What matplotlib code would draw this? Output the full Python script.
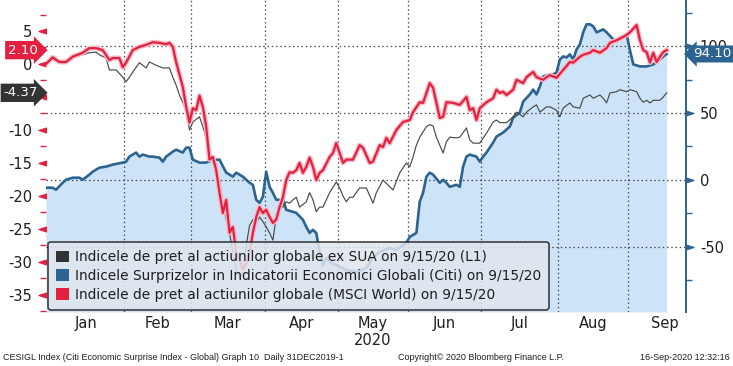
import numpy as np
import matplotlib
matplotlib.use("Agg")
import matplotlib.pyplot as plt
import matplotlib.patheffects as pe
from matplotlib.markers import MarkerStyle
from matplotlib.path import Path
from matplotlib.patches import Patch
from matplotlib.ticker import MultipleLocator, FixedLocator, NullFormatter
from matplotlib.transforms import blended_transform_factory

# ---------------- data (x = trading-day index since 31 Dec 2019) ----------------
red_x = [0, 2, 4, 6, 8, 11, 13, 15, 17, 19, 20, 22, 23, 24, 26, 28, 30, 32, 34, 36, 37, 38, 39,
         41, 42, 43, 44, 45, 46, 47, 48, 49, 50, 51, 52, 53, 54, 55, 56, 57, 58, 59, 60, 61, 62,
         63, 64, 65, 66, 67, 68, 69, 70, 71, 72, 73, 74, 75, 76, 77, 78, 79, 80, 81, 82, 83, 85,
         86, 87, 88, 89, 90, 92, 94, 95, 97, 98, 100, 101, 102, 103, 105, 107, 109, 110, 112, 113,
         115, 116, 118, 119, 120, 122, 124, 126, 127, 128, 129, 130, 132, 134, 135, 136, 137, 138,
         140, 141, 143, 144, 146, 147, 149, 150, 151, 153, 155, 157, 158, 160, 161, 163, 164, 166,
         168, 169, 171, 173, 174, 175, 177, 178, 179, 180, 181, 182, 183, 184, 185, 186]
red_y = [0.0, 1.0, 0.3, 0.3, 1.1, 1.7, 2.4, 2.4, 2.1, 0.6, 0.9, 0.9, -0.5, 0.2, 2.1, 2.6, 2.9, 3.3,
         3.2, 3.0, 3.2, 2.6, 0.3,
         -3.5, -6.5, -8.9, -6.7, -7.0, -4.8, -6.5, -9.5, -14.5, -14.1, -16.1, -19.5, -22.6, -20.6,
         -25.6, -24.7, -28.6, -29.7, -31.2, -30.2, -28.6, -25.6,
         -23.2, -21.7, -22.6, -22.1, -23.2, -24.1, -23.6, -21.7, -20.2, -17.6, -16.4, -16.5, -16.1,
         -15.0, -16.5, -15.6, -14.2, -15.6, -17.6, -16.5, -16.1, -14.1,
         -13.5, -12.0, -13.5, -15.0, -14.5, -14.5, -12.3, -12.7, -15.0, -14.8, -12.3, -12.6, -11.2,
         -12.0, -10.0, -8.8, -8.5, -7.3, -5.8, -5.9,
         -2.9, -3.6, -8.2, -8.0, -5.8, -5.9, -6.2, -5.0, -7.0, -6.7, -8.5, -6.7, -5.8, -5.2, -3.9,
         -4.4, -4.2, -4.7,
         -3.9, -2.4, -2.9, -2.0, -1.2, -2.0, -2.4, -2.0, -1.7, -2.1, -0.9, 0.3, 0.2, 1.1, 1.4, 1.7,
         2.1, 1.7,
         2.4, 3.2, 3.6, 4.1, 4.4, 4.8, 5.9, 3.6, 2.1, 1.8, 0.2, 1.7, 0.3, 1.1, 1.8, 2.10]

gray_x = [0, 2, 4, 6, 8, 11, 13, 15, 16, 18, 19, 20, 21, 23, 24, 25, 27, 28, 30, 31, 33, 35, 37,
          38, 39, 40, 42, 43, 44, 46, 47, 49, 50, 52, 53, 54, 55, 56, 57, 58, 59, 60, 61, 62, 63,
          64, 65, 66, 67, 68, 69, 70, 71, 72, 73, 74, 75, 76, 78, 79, 80, 81, 82, 83, 84, 85, 87,
          88, 89, 90, 91, 92, 94, 96, 98, 99, 101, 103, 104, 106, 108, 109, 110, 111, 112, 114,
          115, 116, 117, 118, 119, 120, 121, 123, 124, 126, 127, 128, 130, 132, 134, 135, 136, 138,
          140, 141, 143, 144, 146, 147, 148, 150, 151, 153, 154, 155, 157, 158, 160, 161, 163, 164,
          166, 167, 168, 169, 171, 172, 174, 175, 177, 178, 179, 180, 181, 182, 184, 185, 186]
gray_y = [0.0, 0.6, 0.3, 0.2, 0.9, 1.4, 1.7, 1.8, 1.4, 0.9, -0.9, -0.9, -0.9, -2.0, -2.7, -2.0,
          -0.5, 0.2, -0.6, 0.3, -0.2, -0.6, -0.6,
          -2.0, -3.2, -4.7, -7.0, -10.0, -8.8, -8.0, -9.5, -13.0, -15.0, -17.6, -21.1, -23.6,
          -25.6, -28.6, -31.2, -32.4, -31.5, -27.5, -24.5, -23.6, -24.1,
          -23.2, -23.9, -24.7, -25.6, -26.7, -23.2, -21.1, -21.7, -20.9, -21.1, -20.6, -20.2,
          -21.7, -20.9, -19.5, -20.6, -22.4, -21.7, -21.7, -20.6, -19.5, -17.9,
          -18.8, -20.0, -20.9, -20.2, -20.2, -18.8, -18.8, -21.1, -19.5, -17.6, -18.6, -19.1,
          -16.5, -15.0, -15.6, -14.1, -12.3, -11.1, -9.5,
          -9.2, -9.4, -11.1, -12.3, -13.5, -11.8, -11.1, -11.2, -11.1, -9.7, -11.5, -12.0, -12.0,
          -10.5, -8.8, -8.5, -8.9, -8.9,
          -8.0, -7.3, -8.0, -7.3, -6.5, -6.2, -7.3, -6.5, -6.5, -7.0, -8.0, -6.7, -5.9, -6.5,
          -6.7, -5.2, -4.7, -5.2,
          -4.7, -5.2, -5.9, -4.4, -4.2, -3.9, -4.2, -3.9, -4.2, -5.2, -5.8, -5.5, -5.9, -5.5,
          -5.5, -5.0, -4.37]

blue_x = [0, 2, 3, 5, 6, 8, 10, 11, 13, 14, 16, 18, 20, 23, 24, 25, 27, 28, 29, 31, 32, 34, 35,
          36, 38, 39, 41, 42, 43, 44, 46, 48, 50, 52, 54, 56, 57, 59, 61, 62, 63, 64, 65, 66, 67,
          68, 69, 71, 72, 74, 75, 77, 78, 79, 80, 81, 82, 83, 84, 85, 87, 90, 93, 96, 98, 100,
          103, 105, 107, 108, 109, 111, 112, 113, 114, 115, 116, 118, 119, 120, 121, 123, 124,
          125, 126, 127, 129, 130, 131, 132, 134, 135, 137, 139, 140, 142, 143, 145, 146, 147,
          148, 149, 151, 152, 153, 154, 155, 156, 157, 158, 159, 160, 161, 162, 163, 164, 165,
          167, 168, 170, 171, 172, 174, 175, 176, 178, 180, 182, 184, 185, 186]
blue_y = [-6.0, -6.0, -7.5, -2.3, 0.0, 1.5, 1.5, 0.0, 3.8, 6.0, 9.0, 9.8, 11.3, 12.8, 13.5, 17.3,
          20.3, 17.3, 18.8, 17.3, 17.3, 16.5, 13.5,
          17.3, 21.0, 22.5, 20.3, 24.0, 24.0, 15.0, 12.8, 12.8, 15.0, 15.0, 5.3, 2.3, 5.3, 2.3,
          -2.3, -3.8, -15.0, -17.3, -12.8, 6.0, -5.3,
          -9.8, -15.0, -15.0, -22.5, -24.0, -24.8, -30.0, -35.3, -39.8, -37.5, -39.8, -54.0,
          -63.8, -58.5, -61.5, -63.8, -67.5, -69.0, -66.0, -57.8, -54.0,
          -51.0, -52.5, -48.8, -47.3, -42.8, -39.8, -16.5, -9.8, 2.3, 5.3, 3.8, -2.3, 0.0, -2.3,
          -5.3, -3.8, -5.3,
          9.8, 17.3, 18.8, 17.3, 13.5, 17.3, 20.3, 27.8, 32.3, 35.3, 39.8, 46.5, 50.3, 58.5,
          63.8, 67.5, 63.8,
          69.8, 77.3, 78.8, 78.8, 80.3, 90.0, 92.3, 91.5, 93.8, 90.0, 97.5, 101.3, 110.3, 116.3,
          116.3, 114.8, 110.3,
          112.5, 110.3, 105.0, 103.5, 106.5, 108.8, 97.0, 86.3, 84.8, 84.8, 86.3, 90.0, 92.3, 94.10]

months = ["Jan", "Feb", "Mar", "Apr", "May", "Jun", "Jul", "Aug", "Sep"]
month_starts = ["2020-01-01", "2020-02-01", "2020-03-01", "2020-04-01", "2020-05-01",
                "2020-06-01", "2020-07-01", "2020-08-01", "2020-09-01", "2020-10-01"]
base_day = "2019-12-31"
year_label = "2020"

left_ticks = [5, 0, -5, -10, -15, -20, -25, -30, -35]
left_tick_labels = ["5", "0", "", "-10", "-15", "-20", "-25", "-30", "-35"]
right_ticks = [100, 50, 0, -50]
right_tick_labels = ["100", "50", "0", "-50"]

legend_labels = [
    "Indicele de pret al actiunilor globale ex SUA on 9/15/20 (L1)",
    "Indicele Surprizelor in Indicatorii Economici Globali (Citi) on 9/15/20",
    "Indicele de pret al actiunilor globale (MSCI World) on 9/15/20",
]
footer_left = "CESIGL Index (Citi Economic Surprise Index - Global) Graph 10  Daily 31DEC2019-1"
footer_mid = "Copyright\u00a9 2020 Bloomberg Finance L.P."
footer_right = "16-Sep-2020 12:32:16"

# ---------------- style ----------------
RED = "#e3203f"
RED_GLOW = "#f7bcc7"
BLUE = "#2c6390"
FILL = "#cde3f7"
GRAY = "#4a4a4a"
DARKBOX = "#333333"
TXT = "#1e1e1e"

plt.rcParams["font.family"] = ["DejaVu Sans"]

W, H = 733, 366
fig = plt.figure(figsize=(W / 100, H / 100), dpi=100)
ax_b = fig.add_axes([46 / W, 1 - 312 / H, 640 / W, 312 / H])
ax_l = ax_b.twinx()
ax_b.yaxis.tick_right()
ax_l.yaxis.tick_left()
ax_b.set_zorder(1)
ax_l.set_zorder(2)
ax_l.patch.set_visible(False)

# x axis in trading days
bounds = [np.busday_count(base_day, d) - 0.5 for d in month_starts]
centers = [(bounds[i] + bounds[i + 1]) / 2 for i in range(len(months))]
ax_b.set_xlim(0, 191.8)

# blue series (right axis)
bottom = -99
ax_b.set_ylim(bottom, 134.5)
ax_b.fill_between(blue_x, blue_y, bottom, color=FILL, lw=0, zorder=1)
ax_b.plot(blue_x, blue_y, color=BLUE, lw=1.9, zorder=3, solid_joinstyle="round")

# red & gray (left axis)
ax_l.set_ylim(-37.6, 9.7)
ax_l.plot(gray_x, gray_y, color=GRAY, lw=0.85, zorder=3)
ax_l.plot(red_x, red_y, color=RED, lw=1.6, zorder=4,
          path_effects=[pe.Stroke(linewidth=3.6, foreground=RED_GLOW), pe.Normal()])

# grid / ticks
ax_b.set_axisbelow(False)
ax_b.xaxis.set_major_locator(FixedLocator(bounds[1:-1]))
ax_b.xaxis.set_major_formatter(NullFormatter())
ax_b.xaxis.set_minor_locator(FixedLocator(centers))
ax_b.set_xticklabels(months, minor=True)
ax_b.tick_params(axis="x", which="both", length=0, colors=TXT, labelsize=10.5, pad=3)
ax_b.set_yticks(right_ticks)
ax_b.set_yticklabels(right_tick_labels)
ax_b.yaxis.set_minor_locator(MultipleLocator(25))
ax_b.grid(True, which="major", axis="both", color="#4a4a4a", lw=0.9, ls=(0, (1.2, 2.2)))

for s in ["top", "bottom", "left"]:
    ax_b.spines[s].set_visible(False)
    ax_l.spines[s].set_visible(False)
ax_l.spines["right"].set_visible(False)
ax_b.spines["right"].set_color(BLUE)
ax_b.spines["right"].set_linewidth(1.4)
ax_l.spines["left"].set_color(RED)
ax_l.spines["left"].set_linewidth(1.4)

ax_l.set_yticks(left_ticks)
ax_l.set_yticklabels(left_tick_labels)
ax_l.yaxis.set_minor_locator(MultipleLocator(2.5))
ax_l.tick_params(axis="y", which="major", length=10, width=0.8, color=RED, labelcolor=TXT,
                 labelsize=10.5, pad=0)
ax_l.tick_params(axis="y", which="minor", length=4, width=1, color=RED)
ax_b.tick_params(axis="y", which="major", length=10, width=0.8, color=BLUE, labelcolor=TXT,
                 labelsize=10.5, pad=0)
ax_b.tick_params(axis="y", which="minor", length=4, width=1, color=BLUE)

left_tri = MarkerStyle(Path([(0, 0.32), (-1, 0), (0, -0.32), (0, 0.32)], closed=True))
right_tri = MarkerStyle(Path([(0, 0.32), (1, 0), (0, -0.32), (0, 0.32)], closed=True))
for t in ax_l.yaxis.get_major_ticks():
    t.tick1line.set_marker(left_tri)
    t.tick1line.set_markersize(11)
for t in ax_b.yaxis.get_major_ticks():
    t.tick2line.set_marker(right_tri)
    t.tick2line.set_markersize(11)

# year label under May
ax_b.text(centers[4], -0.09, year_label,
          transform=blended_transform_factory(ax_b.transData, ax_b.transAxes),
          ha="center", va="center", fontsize=10.5, color=TXT)

# last-value boxes
tl = blended_transform_factory(ax_l.transAxes, ax_l.transData)
tr = blended_transform_factory(ax_l.transAxes, ax_b.transData)
box_fs = 9.6
ax_l.text(-0.013, red_y[-1], f"{red_y[-1]:.2f}", transform=tl, ha="right", va="center",
          color="white", fontsize=box_fs, zorder=30, clip_on=False,
          bbox=dict(boxstyle="rarrow,pad=0.2", fc=RED, ec="none"))
ax_l.text(-0.013, gray_y[-1], f"{gray_y[-1]:.2f}", transform=tl, ha="right", va="center",
          color="white", fontsize=box_fs, zorder=30, clip_on=False,
          bbox=dict(boxstyle="rarrow,pad=0.2", fc=DARKBOX, ec="none"))
ax_l.text(1.011, blue_y[-1], f"{blue_y[-1]:.2f}", transform=tr, ha="left", va="center",
          color="white", fontsize=box_fs, zorder=30, clip_on=False,
          bbox=dict(boxstyle="larrow,pad=0.15", fc=BLUE, ec="none"))

# legend
handles = [Patch(facecolor=DARKBOX, edgecolor="none"),
           Patch(facecolor=BLUE, edgecolor="none"),
           Patch(facecolor=RED, edgecolor="none")]
leg = ax_l.legend(handles, legend_labels, loc="lower left", bbox_to_anchor=(0.003, 0.006),
                  borderaxespad=0, fontsize=9.9, handlelength=0.9, handleheight=0.9,
                  handletextpad=0.45, labelspacing=0.36, borderpad=0.6, frameon=True,
                  fancybox=True, framealpha=0.85, facecolor="#e0e6ee", edgecolor="#222222")
leg.get_frame().set_linewidth(1.2)
leg.set_zorder(40)
for txt in leg.get_texts():
    txt.set_color(TXT)

# footer (font size fitted so the first text spans the same width as the original)
fy = 1 - 357 / H
ffam = ["Liberation Sans", "DejaVu Sans"]
t1 = fig.text(3 / W, fy, footer_left, fontsize=7, family=ffam, color=TXT, va="center", ha="left")
t2 = fig.text(398 / W, fy, footer_mid, fontsize=7, family=ffam, color=TXT, va="center", ha="left")
t3 = fig.text(730 / W, fy, footer_right, fontsize=7, family=ffam, color=TXT, va="center", ha="right")
renderer = fig.canvas.get_renderer()
w1 = t1.get_window_extent(renderer).width
fs = 7 * 342 / w1
for t in (t1, t2, t3):
    t.set_fontsize(fs)

fig.savefig("out.png", dpi=100)
